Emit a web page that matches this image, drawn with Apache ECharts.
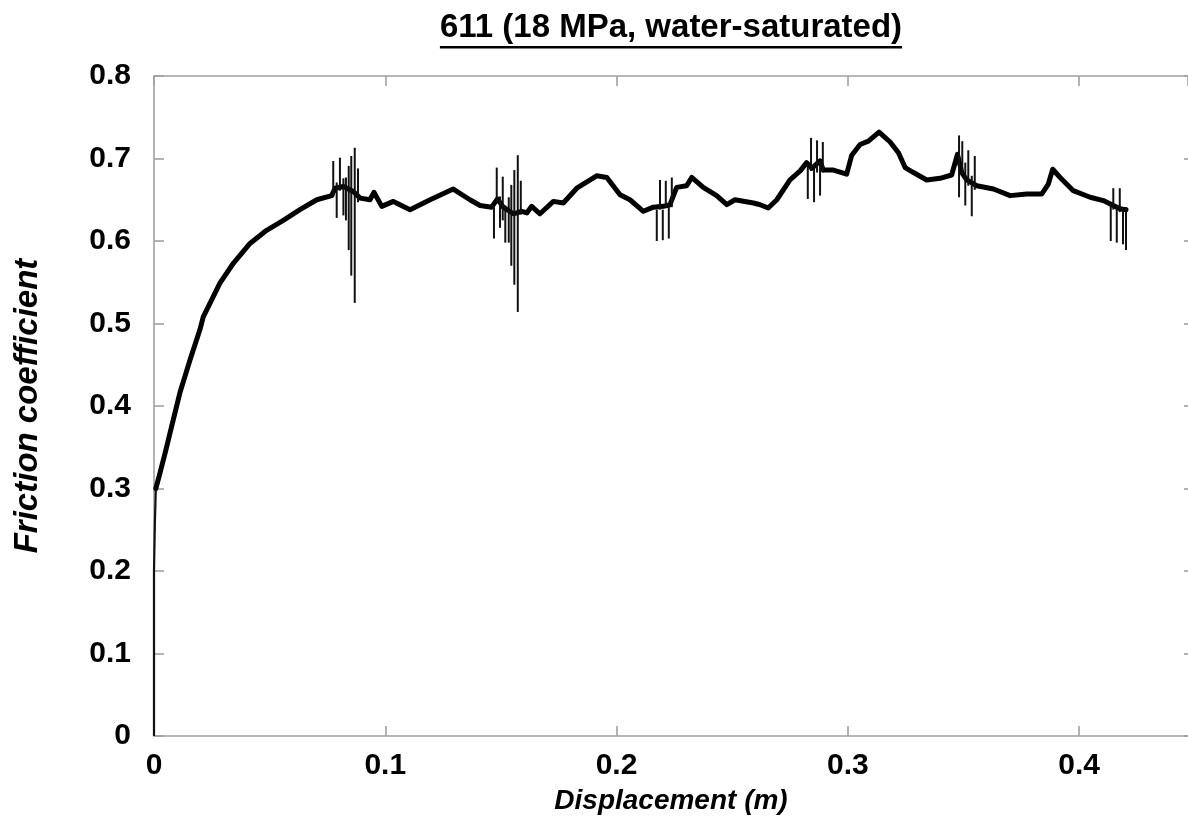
<!DOCTYPE html>
<html>
<head>
<meta charset="utf-8">
<script src="https://cdn.jsdelivr.net/npm/echarts@6/dist/echarts.min.js"></script>
<style>
html,body{margin:0;padding:0;background:#fff;}
#chart{width:1188px;height:830px;}
</style>
</head>
<body>
<div id="chart"></div>
<script>
// ---- data ----
const titleText = '611 (18 MPa, water-saturated)';
const xName = 'Displacement (m)';
const yName = 'Friction coefficient';

// initial thin loading segment
const loadX = [0, 0, 0.0004, 0.0008];
const loadY = [0, 0.20, 0.26, 0.30];

// main friction curve
const disp = [0.0008,0.0026,0.0050,0.0076,0.0112,0.0156,0.0199,0.0213,0.0285,0.0343,0.0415,0.0487,0.0559,0.0631,0.0704,0.0768,
  0.0783,0.0819,0.0862,0.0891,0.0934,0.0951,0.0985,0.1035,0.1107,0.1194,0.1294,0.1366,0.1410,0.1460,0.1485,0.1510,0.1554,
  0.1590,0.1612,0.1633,0.1669,0.1727,0.1770,0.1828,0.1914,0.1958,0.2015,0.2058,0.2116,0.2159,0.2202,0.2231,0.2260,0.2303,
  0.2325,0.2375,0.2433,0.2477,0.2512,0.2592,0.2621,0.2656,0.2693,0.2750,0.2794,0.2822,0.2844,0.2880,0.2894,0.2938,0.2995,
  0.3017,0.3053,0.3089,0.3135,0.3183,0.3219,0.3248,0.3284,0.3341,0.3399,0.3449,0.3474,0.3493,0.3514,0.3558,0.3630,0.3702,
  0.3774,0.3839,0.3867,0.3886,0.3918,0.3975,0.4048,0.4105,0.4148,0.4177,0.4203];
const friction = [0.300,0.319,0.345,0.375,0.416,0.456,0.493,0.508,0.549,0.573,0.597,0.613,0.625,0.638,0.650,0.655,
  0.664,0.666,0.660,0.652,0.650,0.659,0.642,0.648,0.638,0.650,0.663,0.650,0.643,0.641,0.651,0.641,0.633,
  0.636,0.634,0.642,0.633,0.648,0.646,0.664,0.679,0.677,0.656,0.650,0.636,0.641,0.642,0.644,0.665,0.667,
  0.677,0.665,0.655,0.644,0.650,0.646,0.644,0.640,0.650,0.674,0.685,0.695,0.688,0.697,0.686,0.686,0.681,
  0.704,0.717,0.721,0.732,0.720,0.707,0.689,0.683,0.674,0.676,0.680,0.705,0.683,0.674,0.667,0.663,0.655,
  0.657,0.657,0.669,0.687,0.677,0.661,0.653,0.649,0.643,0.639,0.638];

// stick-slip spikes: position, low, high
const spikeX = [0.0775,0.0790,0.0804,0.0819,0.0830,0.0842,0.0853,0.0868,0.0882,
  0.1470,0.1482,0.1496,0.1508,0.1519,0.1534,0.1545,0.1558,0.1573,0.1586,
  0.2174,0.2188,0.2200,0.2213,0.2226,0.2239,
  0.2827,0.2841,0.2854,0.2867,0.2880,0.2892,
  0.3481,0.3495,0.3508,0.3521,0.3536,0.3549,
  0.4137,0.4148,0.4163,0.4176,0.4190,0.4203];
const spikeLow = [0.653,0.628,0.661,0.631,0.625,0.589,0.558,0.525,0.647,
  0.603,0.648,0.616,0.625,0.598,0.598,0.570,0.547,0.514,0.632,
  0.600,0.638,0.601,0.641,0.603,0.641,
  0.651,0.685,0.647,0.683,0.655,0.683,
  0.653,0.681,0.643,0.667,0.630,0.662,
  0.600,0.638,0.598,0.635,0.596,0.589];
const spikeHigh = [0.697,0.671,0.701,0.676,0.677,0.691,0.703,0.713,0.688,
  0.641,0.689,0.654,0.678,0.643,0.653,0.668,0.686,0.704,0.673,
  0.638,0.674,0.638,0.673,0.643,0.677,
  0.693,0.725,0.691,0.722,0.697,0.720,
  0.728,0.721,0.695,0.710,0.679,0.703,
  0.646,0.664,0.643,0.664,0.641,0.641];

const xTicks = [0, 0.1, 0.2, 0.3, 0.4];
const yTicks = [0, 0.1, 0.2, 0.3, 0.4, 0.5, 0.6, 0.7, 0.8];
const xMax = 0.4471;

// ---- build ----
const chart = echarts.init(document.getElementById('chart'), null, {renderer:'canvas'});
const FONT = '"Liberation Sans", Arial, sans-serif';
const AX = '#a0a0a0';

const loadData = loadX.map((x,i)=>[x, loadY[i]]);
const mainData = disp.map((x,i)=>[x, friction[i]]);
const spikeData = spikeX.map((x,i)=>[x, spikeLow[i], spikeHigh[i]]);

// measure title width for underline
const TITLE_FONT = 'bold 33px ' + FONT;
const cv = document.createElement('canvas').getContext('2d');
cv.font = TITLE_FONT;
const tw = cv.measureText(titleText).width;
const titleCx = 671;

function axisBase(tickLen){
  return {
    axisLine:{show:true, onZero:false, lineStyle:{color:AX, width:1.6}},
    axisTick:{show:true, inside:true, length:tickLen, lineStyle:{color:AX, width:1.6}},
    splitLine:{show:false}
  };
}

chart.setOption({
  backgroundColor:'#fff',
  animation:false,
  grid:{left:154, top:76, right:0, bottom:94, containLabel:false},
  graphic:[
    {type:'text', left: titleCx - tw/2, top: 11, style:{text:titleText, font:TITLE_FONT, fill:'#000'}},
    {type:'rect', shape:{x: titleCx - tw/2, y: 46, width: tw, height: 2.6}, style:{fill:'#000'}}
  ],
  xAxis:[
    Object.assign(axisBase(10), {
      type:'value', min:0, max:xMax, interval:0.1, position:'bottom',
      name:xName, nameLocation:'middle', nameGap:51,
      nameTextStyle:{fontFamily:FONT, fontSize:28, fontWeight:'bold', fontStyle:'italic', color:'#000'},
      axisLabel:{show:true, margin:15, fontFamily:FONT, fontSize:30, fontWeight:'bold', color:'#000',
        showMaxLabel:false,
        formatter:v=> xTicks.some(t=>Math.abs(t-v)<1e-9) ? String(v) : ''}
    }),
    Object.assign(axisBase(10), {
      type:'value', min:0, max:xMax, interval:0.1, position:'top', axisLabel:{show:false}
    })
  ],
  yAxis:[
    Object.assign(axisBase(10), {
      type:'value', min:0, max:0.8, interval:0.1, position:'left',
      name:yName, nameLocation:'middle', nameGap:110, nameRotate:90,
      nameTextStyle:{fontFamily:FONT, fontSize:33, fontWeight:'bold', fontStyle:'italic', color:'#000'},
      axisLabel:{show:true, margin:23, fontFamily:FONT, fontSize:30, fontWeight:'bold', color:'#000',
        formatter:v=> yTicks.some(t=>Math.abs(t-v)<1e-9) ? (v===0?'0':v.toFixed(1)) : ''}
    }),
    Object.assign(axisBase(4), {
      type:'value', min:0, max:0.8, interval:0.1, position:'right', axisLabel:{show:false},
      axisLine:{show:false, onZero:false}
    })
  ],
  series:[
    {type:'line', data:loadData, showSymbol:false, symbol:'none', lineStyle:{color:'#111', width:2.2}, z:3},
    {type:'line', data:mainData, showSymbol:false, symbol:'none', smooth:false,
      lineStyle:{color:'#000', width:5, join:'round', cap:'round'}, z:4},
    {type:'custom', data:spikeData, z:5,
      renderItem:(params, api)=>{
        const p1 = api.coord([api.value(0), api.value(1)]);
        const p2 = api.coord([api.value(0), api.value(2)]);
        return {type:'line', shape:{x1:p1[0], y1:p1[1], x2:p2[0], y2:p2[1]},
          style:{stroke:'#111', lineWidth:2}};
      },
      encode:{x:0, y:[1,2]}}
  ]
});
</script>
</body>
</html>
